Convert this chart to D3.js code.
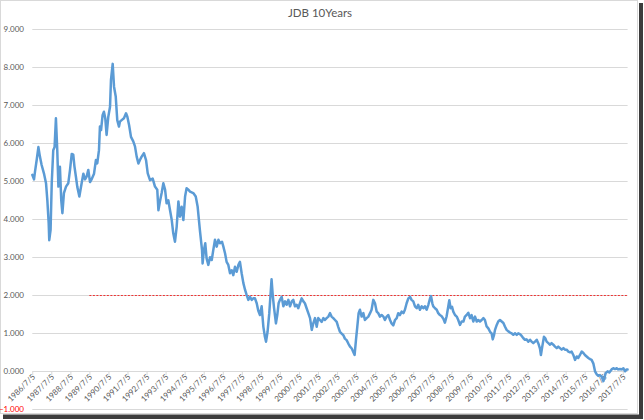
<!DOCTYPE html>
<html>
<head>
<meta charset="utf-8">
<script src="https://cdn.jsdelivr.net/npm/d3@7"></script>
<style>
  html, body { margin: 0; padding: 0; background: #fff; }
  svg { display: block; }
  text { font-family: Lato, "Open Sans", "Liberation Sans", sans-serif; }
</style>
</head>
<body>
<svg id="chart" width="644" height="420"></svg>
<script>
// ---- Data ----
const title = "JDB 10Years";

// decimal years (date of observation)
const years = [
1986.51,1986.60,1986.65,1986.74,1986.83,1986.91,1987.00,1987.12,1987.23,1987.30,
1987.37,1987.40,1987.47,1987.53,1987.61,1987.68,1987.75,1987.82,1987.88,1987.96,
1988.03,1988.09,1988.17,1988.28,1988.40,1988.49,1988.58,1988.66,1988.72,1988.80,
1988.87,1988.98,1989.10,1989.19,1989.28,1989.36,1989.45,1989.54,1989.63,1989.75,
1989.85,1989.92,1990.01,1990.06,1990.12,1990.20,1990.27,1990.34,1990.41,1990.50,
1990.59,1990.64,1990.73,1990.80,1990.89,1990.97,1991.06,1991.11,1991.20,1991.32,
1991.43,1991.50,1991.59,1991.69,1991.81,1991.90,1991.99,1992.08,1992.16,1992.25,
1992.37,1992.48,1992.57,1992.69,1992.83,1992.95,1993.07,1993.13,1993.21,1993.30,
1993.39,1993.48,1993.56,1993.65,1993.74,1993.83,1993.91,1994.00,1994.09,1994.18,
1994.26,1994.35,1994.44,1994.53,1994.61,1994.70,1994.79,1994.96,1995.09,1995.19,
1995.31,1995.42,1995.45,1995.52,1995.59,1995.66,1995.75,1995.84,1995.93,1996.01,
1996.10,1996.19,1996.28,1996.36,1996.47,1996.54,1996.63,1996.71,1996.80,1996.89,
1996.98,1997.06,1997.15,1997.24,1997.33,1997.41,1997.50,1997.59,1997.68,1997.76,
1997.85,1997.94,1998.03,1998.11,1998.20,1998.29,1998.37,1998.46,1998.55,1998.64,
1998.72,1998.78,1998.86,1998.95,1999.02,1999.07,1999.13,1999.20,1999.30,1999.37,
1999.44,1999.51,1999.60,1999.69,1999.78,1999.86,1999.95,2000.04,2000.13,2000.21,
2000.30,2000.39,2000.47,2000.56,2000.65,2000.74,2000.82,2000.91,2001.00,2001.09,
2001.18,2001.26,2001.35,2001.44,2001.52,2001.61,2001.70,2001.79,2001.87,2001.96,
2002.05,2002.14,2002.22,2002.31,2002.40,2002.49,2002.57,2002.66,2002.75,2002.84,
2002.92,2003.01,2003.10,2003.19,2003.28,2003.36,2003.43,2003.50,2003.57,2003.64,
2003.71,2003.80,2003.89,2003.97,2004.06,2004.15,2004.24,2004.32,2004.41,2004.50,
2004.59,2004.67,2004.76,2004.85,2004.94,2005.02,2005.11,2005.20,2005.29,2005.37,
2005.46,2005.55,2005.64,2005.72,2005.81,2005.90,2005.99,2006.07,2006.16,2006.25,
2006.34,2006.42,2006.51,2006.60,2006.69,2006.77,2006.86,2006.95,2007.04,2007.12,
2007.21,2007.30,2007.39,2007.44,2007.51,2007.56,2007.65,2007.74,2007.82,2007.91,
2008.00,2008.09,2008.17,2008.26,2008.35,2008.40,2008.47,2008.54,2008.61,2008.70,
2008.79,2008.87,2008.96,2009.05,2009.14,2009.22,2009.31,2009.40,2009.49,2009.57,
2009.66,2009.75,2009.84,2009.92,2010.01,2010.10,2010.19,2010.27,2010.36,2010.45,
2010.54,2010.62,2010.68,2010.75,2010.80,2010.89,2010.97,2011.06,2011.15,2011.24,
2011.32,2011.41,2011.50,2011.59,2011.67,2011.76,2011.85,2011.94,2012.02,2012.11,
2012.20,2012.29,2012.37,2012.46,2012.55,2012.64,2012.72,2012.81,2012.90,2012.99,
2013.07,2013.16,2013.21,2013.28,2013.37,2013.44,2013.51,2013.60,2013.69,2013.77,
2013.86,2013.95,2014.04,2014.12,2014.21,2014.30,2014.39,2014.47,2014.56,2014.65,
2014.74,2014.82,2014.91,2015.00,2015.09,2015.17,2015.26,2015.35,2015.44,2015.52,
2015.61,2015.70,2015.79,2015.87,2015.96,2016.05,2016.14,2016.22,2016.31,2016.40,
2016.49,2016.54,2016.61,2016.71,2016.80,2016.92,2017.01,2017.10,2017.19,2017.27,
2017.36,2017.45,2017.54,2017.62,2017.71,2017.76
];

// 10-year yield (%)
const yields = [
5.17,5.05,5.25,5.56,5.90,5.65,5.43,5.21,4.95,4.50,
3.90,3.45,3.72,4.95,5.82,5.90,6.66,5.82,4.86,5.38,
4.50,4.16,4.69,4.86,4.95,5.30,5.72,5.70,5.40,5.12,
4.86,4.60,4.95,5.20,5.05,5.12,5.30,4.98,5.06,5.20,
5.56,5.47,5.82,6.44,6.35,6.74,6.83,6.66,6.22,6.70,
6.96,7.67,8.09,7.49,7.23,6.61,6.44,6.57,6.61,6.66,
6.79,6.70,6.48,6.17,6.05,5.92,5.65,5.47,5.56,5.65,
5.74,5.56,5.21,5.03,5.07,4.86,4.78,4.24,4.47,4.69,
4.95,4.78,4.42,4.50,4.24,3.98,3.63,3.41,3.81,4.47,
4.07,4.33,3.98,4.60,4.82,4.78,4.73,4.69,4.60,4.33,
3.70,3.19,2.84,3.19,3.37,2.97,2.80,3.00,2.93,3.19,
3.46,3.28,3.46,3.37,3.41,3.28,3.10,2.88,2.80,2.58,
2.66,2.53,2.75,2.62,2.80,2.88,2.58,2.32,2.14,2.01,
1.88,1.96,1.88,1.92,1.92,1.79,1.60,1.48,1.71,1.17,
0.91,0.78,1.04,1.53,2.05,2.42,2.01,1.67,1.26,1.48,
1.79,1.88,1.96,1.71,1.84,1.75,1.88,1.71,1.84,1.88,
1.71,1.75,1.66,1.79,1.92,1.84,1.79,1.66,1.53,1.40,
1.09,1.26,1.40,1.17,1.40,1.35,1.30,1.40,1.35,1.40,
1.44,1.53,1.44,1.40,1.35,1.30,1.17,1.04,0.99,0.95,
0.86,0.82,0.73,0.65,0.60,0.51,0.43,0.82,1.17,1.53,
1.62,1.44,1.53,1.35,1.40,1.44,1.53,1.62,1.88,1.79,
1.57,1.53,1.44,1.48,1.44,1.35,1.44,1.48,1.35,1.26,
1.21,1.35,1.40,1.53,1.48,1.57,1.53,1.62,1.79,1.92,
1.96,1.88,1.84,1.71,1.66,1.75,1.62,1.71,1.66,1.71,
1.62,1.75,1.92,1.98,1.79,1.71,1.66,1.62,1.53,1.48,
1.45,1.38,1.28,1.45,1.72,1.87,1.66,1.70,1.57,1.48,
1.44,1.35,1.22,1.31,1.31,1.44,1.48,1.54,1.40,1.48,
1.31,1.44,1.31,1.35,1.31,1.35,1.40,1.35,1.18,1.13,
1.04,1.00,0.84,0.96,1.09,1.22,1.31,1.35,1.31,1.27,
1.18,1.09,1.05,1.02,1.00,0.96,1.00,0.96,1.00,0.98,
0.93,0.87,0.83,0.84,0.78,0.83,0.78,0.74,0.78,0.83,
0.74,0.60,0.43,0.65,0.91,0.87,0.78,0.74,0.70,0.74,
0.70,0.65,0.61,0.65,0.61,0.57,0.61,0.57,0.57,0.52,
0.50,0.52,0.43,0.30,0.39,0.35,0.43,0.52,0.48,0.43,
0.39,0.35,0.32,0.30,0.21,0.00,-0.08,-0.12,-0.10,-0.14,
-0.26,-0.17,-0.05,0.00,-0.03,0.05,0.08,0.06,0.08,0.05,
0.06,0.05,0.08,0.00,0.05,0.05
];

// x-axis category labels (one per year, July 5)
const tickLabels = [
"1986/7/5","1987/7/5","1988/7/5","1989/7/5","1990/7/5","1991/7/5","1992/7/5","1993/7/5",
"1994/7/5","1995/7/5","1996/7/5","1997/7/5","1998/7/5","1999/7/5","2000/7/5","2001/7/5",
"2002/7/5","2003/7/5","2004/7/5","2005/7/5","2006/7/5","2007/7/5","2008/7/5","2009/7/5",
"2010/7/5","2011/7/5","2012/7/5","2013/7/5","2014/7/5","2015/7/5","2016/7/5","2017/7/5"
];

// y-axis ticks
const yTicks = [-1,0,1,2,3,4,5,6,7,8,9];

// reference level (dotted red line) from 1989/7/5 to the end
const refLevel = 2.0;
const refStartLabel = "1989/7/5";

// ---- helpers ----
function labelToYear(s) {
  const [y, m, d] = s.split("/").map(Number);
  const start = Date.UTC(y, 0, 1), end = Date.UTC(y + 1, 0, 1);
  return y + (Date.UTC(y, m - 1, d) - start) / (end - start);
}

const data = years.map((t, i) => ({ t, v: yields[i] }));

// ---- layout ----
const svg = d3.select("#chart");
const plot = { left: 32.3, right: 627.6, top: 29.3, bottom: 409.3 };

const x = d3.scaleLinear()
  .domain(d3.extent(years))
  .range([plot.left, plot.right]);
const y = d3.scaleLinear()
  .domain([d3.min(yTicks), d3.max(yTicks)])
  .range([plot.bottom, plot.top]);

// frame + shadow
svg.append("rect").attr("x", 3).attr("y", 414.5).attr("width", 640).attr("height", 4.5).attr("fill", "#3c3c3c");
svg.append("rect").attr("x", 639).attr("y", 3).attr("width", 4).attr("height", 416).attr("fill", "#3c3c3c");
svg.append("rect").attr("x", 0.5).attr("y", 0.5).attr("width", 637).attr("height", 413)
  .attr("fill", "#fff").attr("stroke", "#d9d9d9").attr("stroke-width", 1);

// title
svg.append("text")
  .attr("x", 320).attr("y", 17)
  .attr("text-anchor", "middle")
  .attr("font-size", 11.5)
  .attr("fill", "#595959")
  .text(title);

// horizontal gridlines
svg.append("g")
  .selectAll("line")
  .data(yTicks.filter(d => d !== 0))
  .join("line")
  .attr("x1", plot.left).attr("x2", plot.right)
  .attr("y1", d => Math.round(y(d)) + 0.5).attr("y2", d => Math.round(y(d)) + 0.5)
  .attr("stroke", "#d9d9d9").attr("stroke-width", 1);

// y-axis labels
const fmt = d3.format(".3f");
svg.append("g")
  .selectAll("text")
  .data(yTicks)
  .join("text")
  .attr("x", 24)
  .attr("y", d => y(d))
  .attr("dy", "0.35em")
  .attr("text-anchor", "end")
  .attr("font-size", 8)
  .attr("fill", d => d < 0 ? "#ff0000" : "#595959")
  .text(d => fmt(d));

// x axis at zero, with yearly ticks
const tickYears = tickLabels.map(labelToYear);
const xAxis = d3.axisBottom(x)
  .tickValues(tickYears)
  .tickFormat((d, i) => tickLabels[i])
  .tickSize(4)
  .tickSizeOuter(0);
const gx = svg.append("g")
  .attr("transform", `translate(0,${Math.round(y(0)) + 0.5})`)
  .call(xAxis);
gx.select(".domain").attr("stroke", "#d9d9d9").attr("d", `M${plot.left},0H${plot.right}`);
gx.selectAll(".tick line").attr("stroke", "#d9d9d9");
gx.selectAll(".tick text")
  .attr("font-size", 8)
  .attr("font-family", "Lato, 'Open Sans', sans-serif")
  .attr("fill", "#595959")
  .attr("text-anchor", "end")
  .attr("dy", null)
  .attr("y", 0)
  .attr("transform", "translate(3,6) rotate(-45)");

// reference dotted line
svg.append("line")
  .attr("x1", x(labelToYear(refStartLabel))).attr("x2", plot.right)
  .attr("y1", Math.round(y(refLevel)) + 0.5).attr("y2", Math.round(y(refLevel)) + 0.5)
  .attr("stroke", "#ee3333").attr("stroke-width", 1)
  .attr("stroke-dasharray", "2,1.5");

// yield line
const line = d3.line().x(d => x(d.t)).y(d => y(d.v));
svg.append("path")
  .datum(data)
  .attr("fill", "none")
  .attr("stroke", "#5b9bd5")
  .attr("stroke-width", 2.5)
  .attr("stroke-linejoin", "round")
  .attr("stroke-linecap", "round")
  .attr("d", line);
</script>
</body>
</html>
